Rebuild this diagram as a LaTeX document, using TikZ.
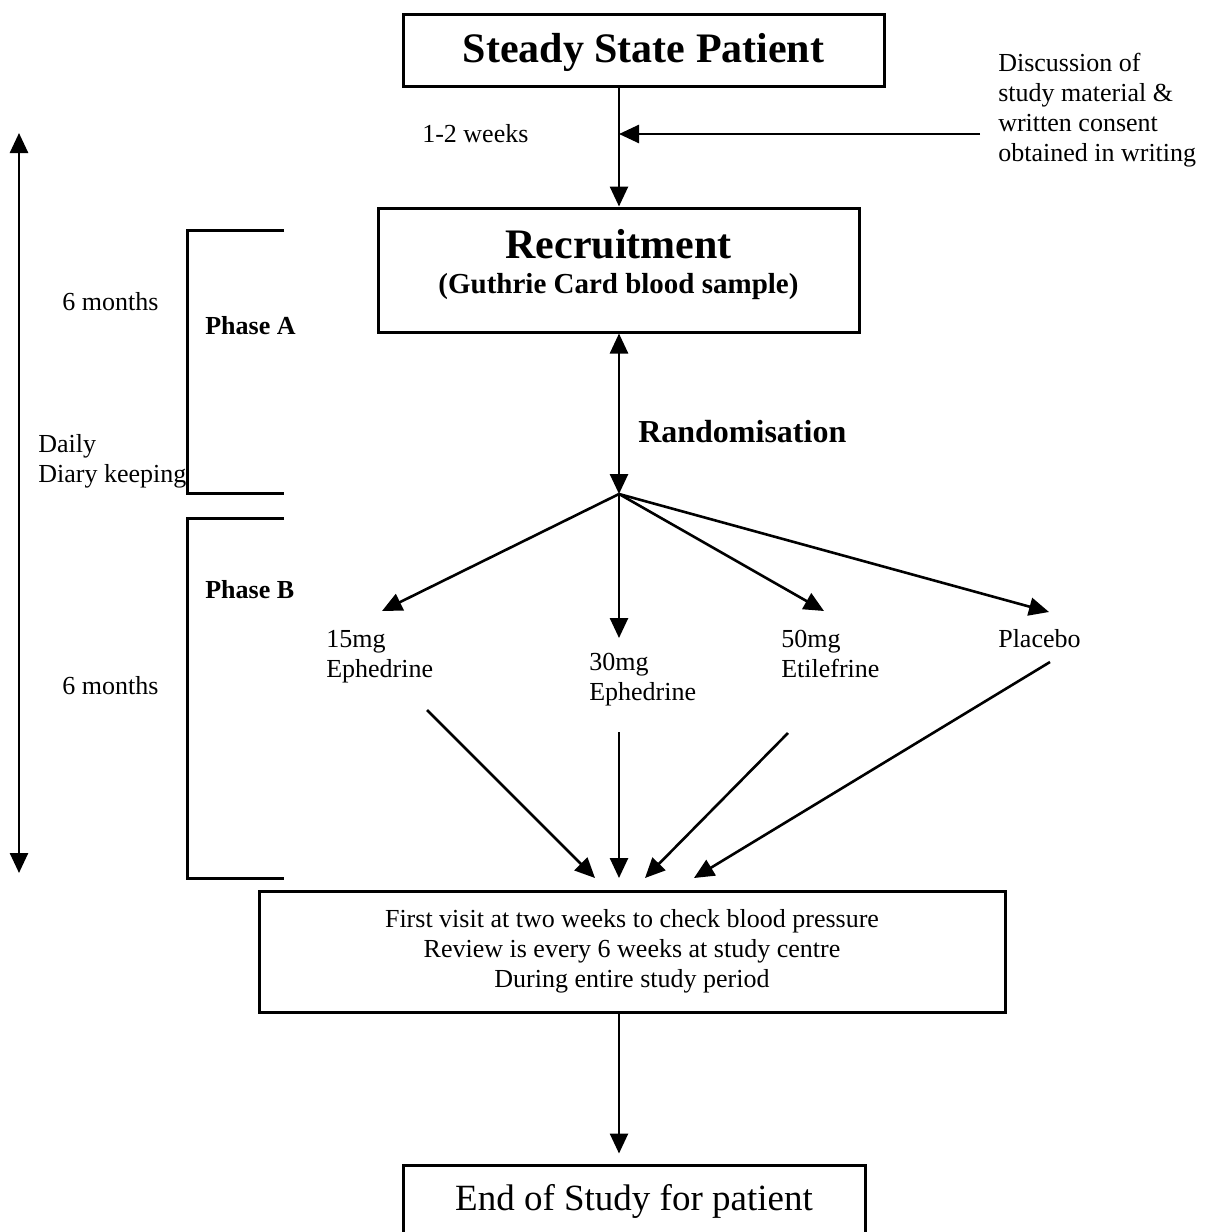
\documentclass[tikz,border=0pt]{standalone}
\usepackage{fontspec}
\setmainfont{Liberation Serif}
\usetikzlibrary{arrows.meta}

\begin{document}
\begin{tikzpicture}[x=0.5pt,y=-0.5pt,line width=1.3pt,
  >={Triangle[length=10pt,width=9pt]},
  box/.style={draw,line width=1.5pt,inner sep=0pt,align=center},
  txt/.style={inner sep=0pt,anchor=base west,align=left,font=\fontsize{13}{15}\selectfont},
  bold/.style={txt,font=\fontsize{13}{15}\selectfont\bfseries}]
  \useasboundingbox (0,0) rectangle (1207,1232);
  \clip (0,0) rectangle (1207,1232);

  % boxes
  \node[box,minimum width=240.5pt,text height=24pt,text depth=12pt,anchor=base,
    font=\fontsize{21}{24}\selectfont\bfseries] (steady) at (643.5,62) {Steady State Patient};
  \node[box,minimum width=240.5pt,text height=42.5pt,text depth=19.5pt,anchor=base,font=\bfseries] (recruit) at (618.5,293)
    {{\fontsize{21}{24}\selectfont Recruitment}\\[5.5pt]{\fontsize{14.5}{17}\selectfont (Guthrie Card blood sample)}};
  \node[box,minimum width=373pt,minimum height=60.5pt,font=\fontsize{13}{15}\selectfont] (visit) at (632,951.5)
    {First visit at two weeks to check blood pressure\\Review is every 6 weeks at study centre\\During entire study period};
  \node[box,minimum width=231pt,text height=22.5pt,text depth=20pt,anchor=base,
    font=\fontsize{18.5}{22}\selectfont] (finish) at (634,1210) {End of Study for patient};

  % texts (multi-line ones sit on their last line)
  \node[txt] (weeks) at (421,142) {1-2 weeks};
  \node[txt] (consent) at (997,161) {Discussion of\\study material \&\\written consent\\obtained in writing};
  \node[txt,font=\fontsize{16}{18}\selectfont\bfseries] (rand) at (637,442) {Randomisation};
  \node[txt] (d15) at (325,677) {15mg\\Ephedrine};
  \node[txt] (d30) at (588,700) {30mg\\Ephedrine};
  \node[txt] (d50) at (780,677) {50mg\\Etilefrine};
  \node[txt] (plac) at (997,647) {Placebo};
  \node[txt] (monA) at (61,310) {6 months};
  \node[txt] (monB) at (61,694) {6 months};
  \node[bold] (phA) at (204,334) {Phase A};
  \node[bold] (phB) at (204,598) {Phase B};
  \node[txt] (diary) at (37,482) {Daily\\Diary keeping};

  \coordinate (split) at (619,494);
  \coordinate (cfrom) at (980,134);
  \coordinate (a15) at (382,611);
  \coordinate (a30) at (619,638);
  \coordinate (a50) at (824,611);
  \coordinate (apl) at (1049,612);
  \coordinate (b15) at (427,710);
  \coordinate (b30) at (619,732);
  \coordinate (b50) at (788,733);
  \coordinate (bpl) at (1050,662);
  \coordinate (c15) at (595,878);
  \coordinate (c30) at (619,878);
  \coordinate (c50) at (645,878);
  \coordinate (cpl) at (694,878);

  % arrows
  \draw[->] (steady.south -| split) -- (recruit.north -| split);
  \draw[->] (cfrom) -- (cfrom -| split);
  \draw[<->] (recruit.south -| split) -- (split);
  \foreach \n in {a15,a30,a50,apl} \draw[->] (split) -- (\n);
  \foreach \s/\e in {b15/c15,b30/c30,b50/c50,bpl/cpl} \draw[->] (\s) -- (\e);
  \draw[->] (visit.south -| split) -- ([yshift=5pt]finish.north -| split);

  % phases
  \draw[<->] (19,133) -- (19,873);
  \draw[line width=1.5pt] (284,230) -| (187,493) -- (284,493);
  \draw[line width=1.5pt] (284,518) -| (187,878) -- (284,878);
\end{tikzpicture}
\end{document}
